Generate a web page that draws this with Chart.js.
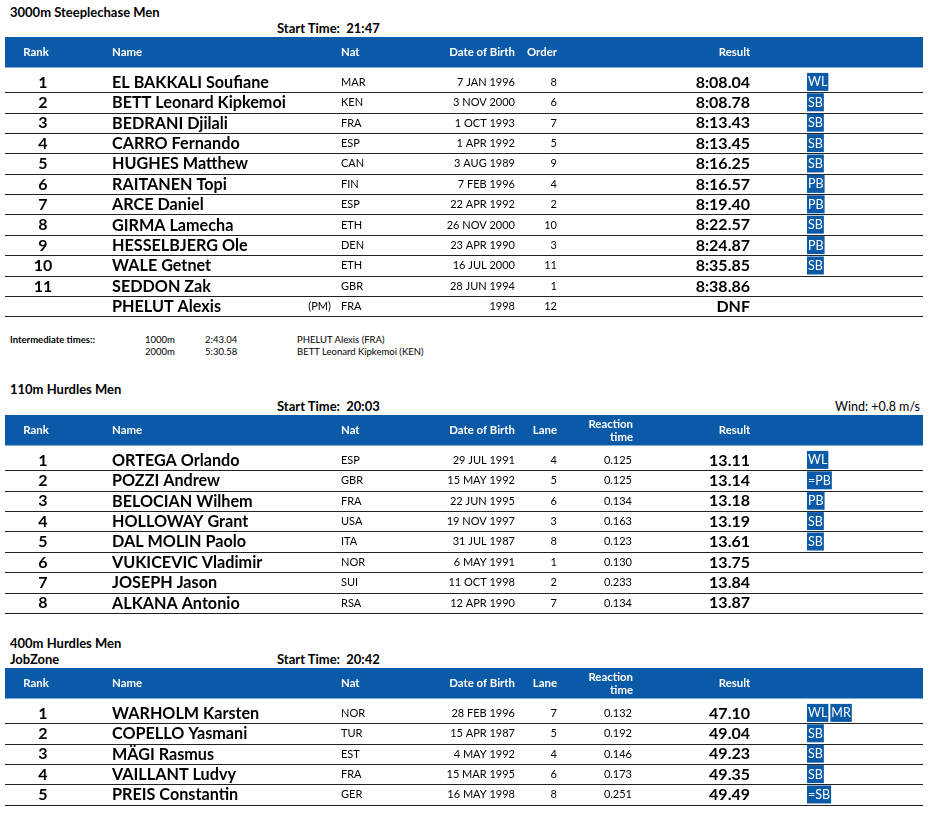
<!DOCTYPE html>
<html>
<head>
<meta charset="utf-8">
<script src="https://cdn.jsdelivr.net/npm/chart.js@4.4.0/dist/chart.umd.min.js"></script>
<style>
    body { margin: 0; background: #fff; font-family: Lato, sans-serif; color: #000; }
    .page { position: relative; width: 932px; height: 815px; overflow: hidden; }
    .t { position: absolute; white-space: pre; line-height: 1; }
    .ev { font-weight: bold; font-size: 13px; }
    .st { font-weight: bold; font-size: 13px; }
    .wind { font-size: 12.5px; }
    .im { font-size: 9.5px; }
    canvas { position: absolute; left: 0; }
</style>
</head>
<body>
<div class="page">
    <div class="t ev" style="left:10px;top:6px">3000m Steeplechase Men</div>
    <div class="t st" style="left:277px;top:22px">Start Time:  21:47</div>
    <canvas id="chart_steeple" width="932" height="286" style="top:37px"></canvas>

    <div class="t im" style="left:10px;top:335px;font-weight:bold">Intermediate times::</div>
    <div class="t im" style="left:145px;top:335px">1000m</div>
    <div class="t im" style="left:205px;top:335px">2:43.04</div>
    <div class="t im" style="left:297px;top:335px">PHELUT Alexis (FRA)</div>
    <div class="t im" style="left:145px;top:347px">2000m</div>
    <div class="t im" style="left:205px;top:347px">5:30.58</div>
    <div class="t im" style="left:297px;top:347px">BETT Leonard Kipkemoi (KEN)</div>

    <div class="t ev" style="left:10px;top:383px">110m Hurdles Men</div>
    <div class="t st" style="left:277px;top:400px">Start Time:  20:03</div>
    <div class="t wind" style="right:12px;top:400.5px">Wind: +0.8 m/s</div>
    <canvas id="chart_110h" width="932" height="205" style="top:415px"></canvas>

    <div class="t ev" style="left:10px;top:637px">400m Hurdles Men</div>
    <div class="t ev" style="left:10px;top:653px">JobZone</div>
    <div class="t st" style="left:277px;top:653px">Start Time:  20:42</div>
    <canvas id="chart_400h" width="932" height="146" style="top:668.3px"></canvas>
</div>

<script>
// 3000m Steeplechase Men
const steepleRank = ['1', '2', '3', '4', '5', '6', '7', '8', '9', '10', '11', ''];
const steepleName = ['EL BAKKALI Soufiane', 'BETT Leonard Kipkemoi', 'BEDRANI Djilali', 'CARRO Fernando', 'HUGHES Matthew', 'RAITANEN Topi', 'ARCE Daniel', 'GIRMA Lamecha', 'HESSELBJERG Ole', 'WALE Getnet', 'SEDDON Zak', 'PHELUT Alexis'];
const steepleNote = ['', '', '', '', '', '', '', '', '', '', '', '(PM)'];
const steepleNat = ['MAR', 'KEN', 'FRA', 'ESP', 'CAN', 'FIN', 'ESP', 'ETH', 'DEN', 'ETH', 'GBR', 'FRA'];
const steepleDob = ['7 JAN 1996', '3 NOV 2000', '1 OCT 1993', '1 APR 1992', '3 AUG 1989', '7 FEB 1996', '22 APR 1992', '26 NOV 2000', '23 APR 1990', '16 JUL 2000', '28 JUN 1994', '1998'];
const steepleOrder = ['8', '6', '7', '5', '9', '4', '2', '10', '3', '11', '1', '12'];
const steepleResult = ['8:08.04', '8:08.78', '8:13.43', '8:13.45', '8:16.25', '8:16.57', '8:19.40', '8:22.57', '8:24.87', '8:35.85', '8:38.86', 'DNF'];
const steepleBadges = [['WL'], ['SB'], ['SB'], ['SB'], ['SB'], ['PB'], ['PB'], ['SB'], ['PB'], ['SB'], [], []];

// 110m Hurdles Men
const h110Rank = ['1', '2', '3', '4', '5', '6', '7', '8'];
const h110Name = ['ORTEGA Orlando', 'POZZI Andrew', 'BELOCIAN Wilhem', 'HOLLOWAY Grant', 'DAL MOLIN Paolo', 'VUKICEVIC Vladimir', 'JOSEPH Jason', 'ALKANA Antonio'];
const h110Nat = ['ESP', 'GBR', 'FRA', 'USA', 'ITA', 'NOR', 'SUI', 'RSA'];
const h110Dob = ['29 JUL 1991', '15 MAY 1992', '22 JUN 1995', '19 NOV 1997', '31 JUL 1987', '6 MAY 1991', '11 OCT 1998', '12 APR 1990'];
const h110Lane = ['4', '5', '6', '3', '8', '1', '2', '7'];
const h110Reaction = ['0.125', '0.125', '0.134', '0.163', '0.123', '0.130', '0.233', '0.134'];
const h110Result = ['13.11', '13.14', '13.18', '13.19', '13.61', '13.75', '13.84', '13.87'];
const h110Badges = [['WL'], ['=PB'], ['PB'], ['SB'], ['SB'], [], [], []];

// 400m Hurdles Men
const h400Rank = ['1', '2', '3', '4', '5'];
const h400Name = ['WARHOLM Karsten', 'COPELLO Yasmani', 'MÄGI Rasmus', 'VAILLANT Ludvy', 'PREIS Constantin'];
const h400Nat = ['NOR', 'TUR', 'EST', 'FRA', 'GER'];
const h400Dob = ['28 FEB 1996', '15 APR 1987', '4 MAY 1992', '15 MAR 1995', '16 MAY 1998'];
const h400Lane = ['7', '5', '4', '6', '8'];
const h400Reaction = ['0.132', '0.192', '0.146', '0.173', '0.251'];
const h400Result = ['47.10', '49.04', '49.23', '49.35', '49.49'];
const h400Badges = [['WL', 'MR'], ['SB'], ['SB'], ['SB'], ['=SB']];

const BLUE = '#0b5aa7';
const HEADER_H = 30.5;
const ROW_TOP = 34.7;
const ROW_H = 20.4;

// where each column sits (x in page pixels)
const colRank = { x: 43, align: 'center', font: 'bold 16px Lato' };
const colName = { x: 112, align: 'left', font: 'bold 16.2px Lato' };
const colNote = { x: 331, align: 'right', font: '11px Lato' };
const colNat = { x: 341, align: 'left', font: '11px Lato' };
const colDob = { x: 515, align: 'right', font: '11px Lato' };
const colLane = { x: 557, align: 'right', font: '11px Lato' };
const colReact = { x: 632, align: 'right', font: '11px Lato' };
const colResult = { x: 750, align: 'right', font: 'bold 16px Lato' };

const tablePlugin = {
    id: 'resultTable',
    afterDraw(chart, args, opts) {
        const ctx = chart.ctx;
        const xs = chart.scales.x;
        const ys = chart.scales.y;
        const left = xs.getPixelForValue(5);
        const right = xs.getPixelForValue(923);
        ctx.save();

        // header band
        ctx.fillStyle = BLUE;
        ctx.fillRect(left, 0, right - left, HEADER_H);
        ctx.fillStyle = '#fff';
        ctx.font = 'bold 11.4px Lato';
        ctx.textBaseline = 'alphabetic';
        opts.headers.forEach(function (h) {
            ctx.textAlign = h.align;
            const lines = h.text.split('\n');
            lines.forEach(function (line, k) {
                const cy = HEADER_H / 2 + (lines.length > 1 ? (k === 0 ? -6.5 : 6.5) : 0);
                ctx.fillText(line, xs.getPixelForValue(h.x), cy + 4);
            });
        });

        // rows
        const n = chart.data.labels.length;
        for (let i = 0; i < n; i++) {
            const cy = ys.getPixelForValue(i);
            ctx.fillStyle = '#000';
            opts.columns.forEach(function (c) {
                const val = c.values[i];
                if (!val) return;
                ctx.font = c.font;
                ctx.textAlign = c.align;
                const size = parseFloat(c.font.match(/([\d.]+)px/)[1]);
                ctx.fillText(val, xs.getPixelForValue(c.x), cy + size * 0.36);
            });

            // record badges
            let bx = xs.getPixelForValue(807);
            ctx.font = '12.5px Lato';
            ctx.textAlign = 'left';
            opts.badges[i].forEach(function (b) {
                const w = ctx.measureText(b).width + 2;
                ctx.fillStyle = BLUE;
                ctx.fillRect(bx, cy - 9, w, 18);
                ctx.fillStyle = '#fff';
                ctx.fillText(b, bx + 1, cy + 4.5);
                bx += w + 2;
            });

            // separator under the row
            const ly = Math.round(cy + ROW_H / 2) + 0.5;
            ctx.strokeStyle = '#222';
            ctx.lineWidth = 1.2;
            ctx.beginPath();
            ctx.moveTo(left, ly);
            ctx.lineTo(right, ly);
            ctx.stroke();
        }
        ctx.restore();
    }
};

function makeTable(id, labels, headers, columns, badges) {
    const canvas = document.getElementById(id);
    const areaH = labels.length * ROW_H;
    return new Chart(canvas.getContext('2d'), {
        type: 'bar',
        data: { labels: labels, datasets: [] },
        options: {
            indexAxis: 'y',
            responsive: false,
            animation: false,
            events: [],
            layout: { padding: { top: ROW_TOP, bottom: canvas.height - ROW_TOP - areaH, left: 0, right: 0 } },
            scales: {
                x: { type: 'linear', min: 0, max: 932, display: false },
                y: { type: 'category', offset: true, display: false }
            },
            plugins: {
                legend: { display: false },
                tooltip: { enabled: false },
                resultTable: { headers: headers, columns: columns, badges: badges }
            }
        },
        plugins: [tablePlugin]
    });
}

const hurdleHeaders = [
    { text: 'Rank', x: 36, align: 'center' },
    { text: 'Name', x: 112, align: 'left' },
    { text: 'Nat', x: 341, align: 'left' },
    { text: 'Date of Birth', x: 515, align: 'right' },
    { text: 'Lane', x: 557, align: 'right' },
    { text: 'Reaction\ntime', x: 633, align: 'right' },
    { text: 'Result', x: 734.5, align: 'center' }
];

makeTable('chart_steeple', steepleName, [
    { text: 'Rank', x: 36, align: 'center' },
    { text: 'Name', x: 112, align: 'left' },
    { text: 'Nat', x: 341, align: 'left' },
    { text: 'Date of Birth', x: 515, align: 'right' },
    { text: 'Order', x: 557, align: 'right' },
    { text: 'Result', x: 734.5, align: 'center' }
], [
    Object.assign({ values: steepleRank }, colRank),
    Object.assign({ values: steepleName }, colName),
    Object.assign({ values: steepleNote }, colNote),
    Object.assign({ values: steepleNat }, colNat),
    Object.assign({ values: steepleDob }, colDob),
    Object.assign({ values: steepleOrder }, colLane),
    Object.assign({ values: steepleResult }, colResult)
], steepleBadges);

makeTable('chart_110h', h110Name, hurdleHeaders, [
    Object.assign({ values: h110Rank }, colRank),
    Object.assign({ values: h110Name }, colName),
    Object.assign({ values: h110Nat }, colNat),
    Object.assign({ values: h110Dob }, colDob),
    Object.assign({ values: h110Lane }, colLane),
    Object.assign({ values: h110Reaction }, colReact),
    Object.assign({ values: h110Result }, colResult)
], h110Badges);

makeTable('chart_400h', h400Name, hurdleHeaders, [
    Object.assign({ values: h400Rank }, colRank),
    Object.assign({ values: h400Name }, colName),
    Object.assign({ values: h400Nat }, colNat),
    Object.assign({ values: h400Dob }, colDob),
    Object.assign({ values: h400Lane }, colLane),
    Object.assign({ values: h400Reaction }, colReact),
    Object.assign({ values: h400Result }, colResult)
], h400Badges);
</script>
</body>
</html>
